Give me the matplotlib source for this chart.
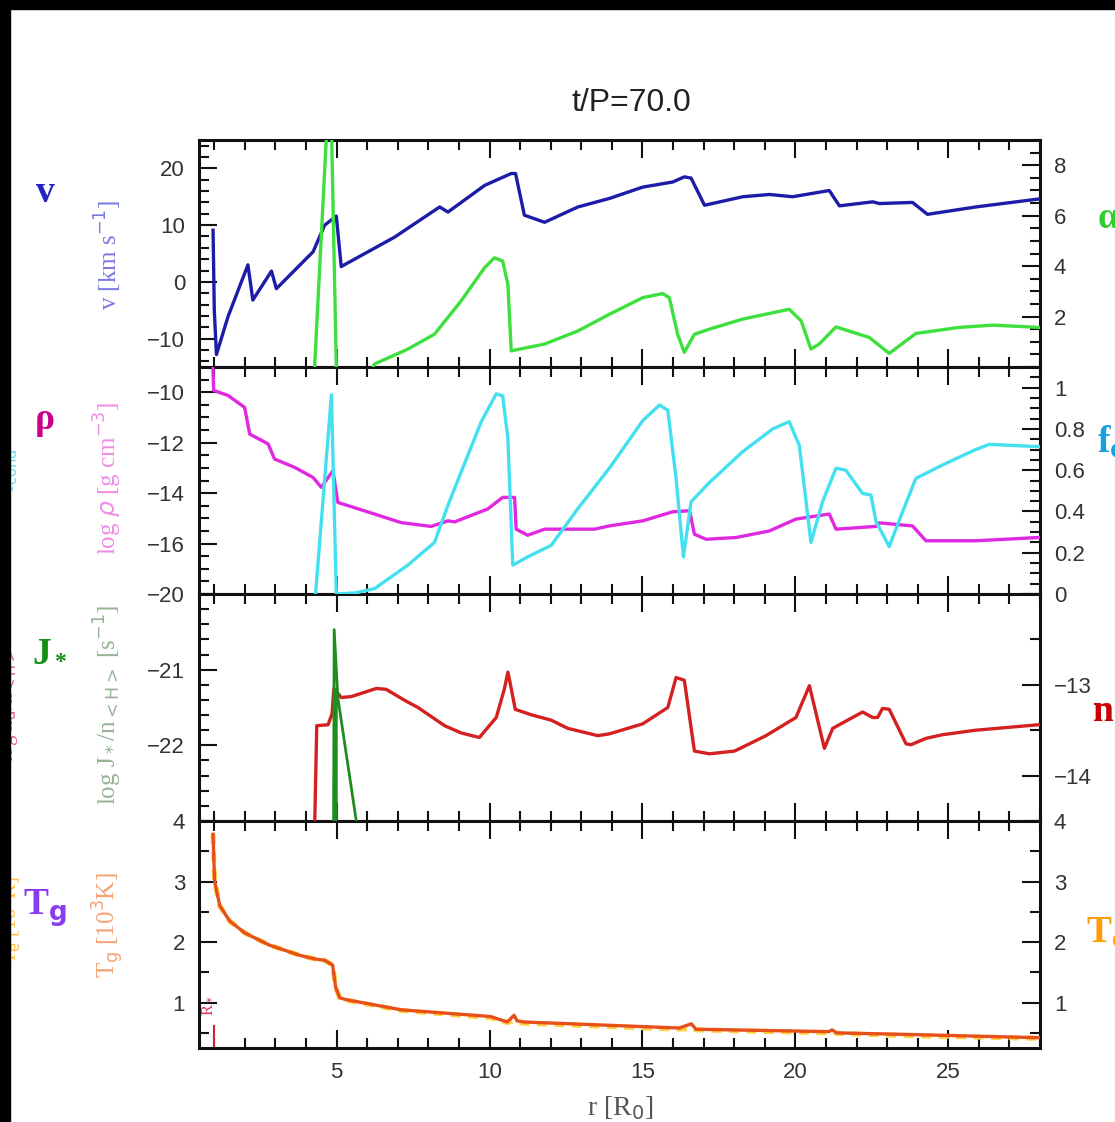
import numpy as np
import matplotlib
matplotlib.use("Agg")
import matplotlib.pyplot as plt
from matplotlib.ticker import MultipleLocator, FixedLocator, FixedFormatter
from matplotlib.patches import Rectangle

# radial profiles, r in stellar radii
r_v = [0.96, 1.00, 1.07, 1.45, 2.10, 2.26, 2.87, 3.03, 4.23, 4.61, 4.99, 5.15, 6.90,
       8.37, 8.64, 9.84, 10.71, 10.85, 11.14, 11.80, 12.89, 13.92, 15.01, 15.99,
       16.37, 16.59, 17.03, 18.28, 19.15, 19.91, 21.11, 21.44, 22.53, 22.75, 23.83,
       24.32, 25.90, 27.95]
v = [9.1, -5.0, -12.8, -6.1, 3.0, -3.2, 1.9, -1.2, 5.3, 10.0, 11.6, 2.7, 7.9,
     13.2, 12.3, 17.0, 19.1, 19.1, 11.75, 10.5, 13.2, 14.7, 16.7, 17.6,
     18.5, 18.3, 13.5, 15.0, 15.4, 15.0, 16.1, 13.4, 14.1, 13.8, 14.0,
     11.9, 13.2, 14.6]

r_alpha = [4.28, 4.66, 4.75, 4.84, 4.99, 5.05, 6.00, 6.24, 7.33, 8.20, 9.07, 9.84,
           10.16, 10.43, 10.60, 10.71, 11.80, 12.89, 13.92, 15.01, 15.66, 15.88,
           16.15, 16.37, 16.70, 17.19, 18.28, 19.80, 20.19, 20.51, 20.78, 21.33,
           22.42, 23.07, 23.94, 25.36, 26.45, 27.95]
alpha = [0.0, 9.0, 10.5, 9.0, 0.0, -0.5, -0.5, 0.12, 0.71, 1.30, 2.62, 3.94,
         4.33, 4.20, 3.28, 0.64, 0.91, 1.43, 2.09, 2.75, 2.91, 2.75,
         1.30, 0.58, 1.30, 1.50, 1.90, 2.29, 1.83, 0.71, 0.91, 1.59,
         1.17, 0.54, 1.33, 1.57, 1.66, 1.57]

r_rho = [0.95, 0.98, 1.45, 1.99, 2.16, 2.76, 2.97, 3.63, 4.23, 4.50, 4.88, 5.04,
         6.24, 7.11, 8.09, 8.64, 8.86, 9.94, 10.43, 10.82, 10.87, 11.25, 11.80,
         13.43, 13.92, 15.01, 15.99, 16.54, 16.70, 17.08, 18.06, 19.15, 20.02,
         21.11, 21.33, 22.64, 22.75, 23.83, 24.27, 25.90, 27.95]
log_rho = [-8.8, -9.93, -10.13, -10.6, -11.66, -12.05, -12.65, -12.98, -13.38,
           -13.77, -13.11, -14.37, -14.83, -15.17, -15.32, -15.10, -15.14, -14.63,
           -14.17, -14.17, -15.43, -15.67, -15.43, -15.43, -15.30, -15.10, -14.74,
           -14.70, -15.63, -15.83, -15.76, -15.50, -15.03, -14.83, -15.43, -15.32,
           -15.18, -15.30, -15.89, -15.89, -15.76]

r_fc = [4.30, 4.83, 4.99, 5.60, 6.24, 7.33, 8.20, 8.64, 9.07, 9.73, 10.22, 10.43,
        10.60, 10.76, 11.25, 12.02, 12.89, 13.92, 15.01, 15.56, 15.83, 16.10,
        16.34, 16.59, 17.19, 18.28, 19.26, 19.80, 20.13, 20.51, 20.89, 21.33,
        21.65, 22.20, 22.47, 22.64, 23.07, 23.51, 23.94, 24.81, 25.90, 26.34, 27.95]
f_cond = [-0.02, 0.965, 0.0, 0.005, 0.026, 0.14, 0.25, 0.43, 0.59, 0.835, 0.97,
          0.96, 0.754, 0.14, 0.18, 0.236, 0.414, 0.61, 0.84, 0.916, 0.89, 0.56,
          0.18, 0.447, 0.54, 0.69, 0.80, 0.835, 0.72, 0.25, 0.447, 0.61,
          0.60, 0.487, 0.48, 0.35, 0.23, 0.40, 0.56, 0.625, 0.70, 0.725, 0.714]

r_j = [4.90, 4.92, 5.04, 5.68, np.nan, 4.99, 4.99]
log_j = [-23.2, -20.47, -21.37, -23.1, np.nan, -21.3, -23.2]

r_nc = [4.28, 4.35, 4.72, 4.85, 4.91, 5.15, 5.48, 6.30, 6.62, 7.22, 7.66, 8.53,
        9.07, 9.67, 10.22, 10.49, 10.60, 10.71, 10.84, 11.36, 12.02, 12.56, 13.54,
        13.92, 15.01, 15.83, 16.10, 16.37, 16.70, 17.19, 18.01, 18.50, 19.04,
        20.02, 20.46, 20.95, 21.22, 21.87, 22.20, 22.53, 22.69, 22.85, 23.07,
        23.62, 23.78, 24.27, 24.81, 25.90, 27.95]
log_nc = [-14.6, -13.45, -13.44, -13.32, -13.04, -13.14, -13.13, -13.04, -13.05,
          -13.17, -13.25, -13.45, -13.53, -13.58, -13.36, -13.04, -12.86, -13.04,
          -13.27, -13.33, -13.39, -13.48, -13.56, -13.54, -13.43, -13.25, -12.92,
          -12.95, -13.73, -13.76, -13.73, -13.65, -13.56, -13.36, -13.01, -13.70,
          -13.48, -13.36, -13.30, -13.36, -13.36, -13.26, -13.27, -13.65, -13.66,
          -13.59, -13.55, -13.50, -13.44]

r_t = [0.96, 1.01, 1.18, 1.50, 2.00, 2.80, 3.80, 4.30, 4.60, 4.87, 4.97, 5.10,
       5.30, 7.12, 10.03, 10.58, 10.80, 10.90, 11.12, 16.20, 16.60, 16.75, 21.10,
       21.20, 21.35, 24.00, 27.95]
t_gas = [3.78, 3.0, 2.6, 2.35, 2.15, 1.95, 1.78, 1.72, 1.70, 1.62, 1.25, 1.08,
         1.05, 0.88, 0.77, 0.68, 0.79, 0.70, 0.68, 0.58, 0.65, 0.56, 0.52,
         0.55, 0.50, 0.47, 0.42]
t_eff = [3.78, 3.0, 2.6, 2.35, 2.15, 1.95, 1.78, 1.72, 1.70, 1.62, 1.25, 1.08,
         1.04, 0.87, 0.75, 0.67, 0.70, 0.68, 0.66, 0.56, 0.58, 0.55, 0.50,
         0.51, 0.49, 0.45, 0.41]

W, H = 1115, 1122
fig = plt.figure(figsize=(W / 100, H / 100), dpi=100)
fig.patch.set_facecolor("white")

TICKFONT = dict(family="Liberation Sans", size=16, color="#333333")
MINUS = "\u2212"


def lab(vals):
    out = []
    for t in vals:
        if t is None:
            out.append("")
        else:
            out.append(f"{t:g}".replace("-", MINUS))
    return out


def yaxis(ax, ticks, shown, minor, lim):
    ax.set_ylim(*lim)
    ax.yaxis.set_major_locator(FixedLocator(ticks))
    ax.yaxis.set_major_formatter(FixedFormatter(lab([t if t in shown else None for t in ticks])))
    ax.yaxis.set_minor_locator(MultipleLocator(minor))
    for t in ax.get_yticklabels():
        t.set_fontfamily(TICKFONT["family"])
        t.set_fontsize(TICKFONT["size"])
        t.set_color(TICKFONT["color"])


def frame(ax, bottom_labels=False):
    ax.set_xlim(0.5, 28)
    ax.xaxis.set_major_locator(MultipleLocator(5))
    ax.xaxis.set_minor_locator(MultipleLocator(1))
    ax.tick_params(which="both", direction="in", top=True, bottom=True,
                   left=True, right=False, width=1.5, colors="#111111",
                   labelbottom=bottom_labels, pad=10)
    ax.tick_params(which="major", length=13)
    ax.tick_params(which="minor", length=7)
    for s in ax.spines.values():
        s.set_linewidth(2.2)
        s.set_color("#111111")


def twin(ax):
    tw = ax.twinx()
    tw.tick_params(which="both", direction="in", left=False, right=True,
                   width=1.5, colors="#111111", pad=10)
    tw.tick_params(which="major", length=13)
    tw.tick_params(which="minor", length=7)
    tw.tick_params(axis="x", which="both", top=False, bottom=False)
    for s in tw.spines.values():
        s.set_visible(False)
    return tw


left, width = 199 / W, (1040 - 199) / W
ph = 227 / H
bottoms = [1 - (140 + 227 * (i + 1)) / H for i in range(4)]
axes = [fig.add_axes([left, b, width, ph]) for b in bottoms]

LW = 2.4

# velocity and alpha
ax = axes[0]
frame(ax)
ax.plot(r_v, v, color="#1c1ca8", lw=LW, zorder=3)
yaxis(ax, [-10, 0, 10, 20], [-10, 0, 10, 20], 2, (-15, 25))
tw = twin(ax)
tw.plot(r_alpha, alpha, color="#3ee03e", lw=LW)
yaxis(tw, [0, 2, 4, 6, 8], [2, 4, 6, 8], 0.5, (0, 9))

# density and condensation degree
ax = axes[1]
frame(ax)
ax.plot(r_rho, log_rho, color="#e028e0", lw=LW, zorder=3)
yaxis(ax, [-18, -16, -14, -12, -10], [-16, -14, -12, -10], 0.5, (-18, -9))
tw = twin(ax)
tw.plot(r_fc, f_cond, color="#45e0f0", lw=LW)
yaxis(tw, [0, 0.2, 0.4, 0.6, 0.8, 1.0], [0, 0.2, 0.4, 0.6, 0.8, 1.0], 0.05, (0, 1.1))

# nucleation rate and grain density
ax = axes[2]
frame(ax)
yaxis(ax, [-23, -22, -21, -20], [-22, -21, -20], 0.2, (-23, -20))
tw = twin(ax)
tw.plot(r_nc, log_nc, color="#d42020", lw=LW)
yaxis(tw, [-14, -13, -12], [-14, -13], 0.5, (-14.5, -12))
tw2 = twin(ax)
tw2.set_ylim(-23, -20)
tw2.set_yticks([])
tw2.tick_params(which="both", right=False, labelright=False)
tw2.plot(r_j, log_j, color="#1e8c1e", lw=2.0)

# temperatures
ax = axes[3]
frame(ax, bottom_labels=True)
ax.plot(r_t, t_eff, color="#ffd040", lw=3.6, ls=(0, (2, 1.5)), zorder=2)
ax.plot(r_t, t_gas, color="#e8501a", lw=LW, zorder=3)
ax.plot([1, 1], [0.25, 0.62], color="#d02040", lw=1.5)
ax.text(0.72, 0.95, r"R$_*$", rotation=90, color="#d04060", fontsize=12,
        family="Liberation Serif", ha="center", va="center")
yaxis(ax, [1, 2, 3, 4], [1, 2, 3, 4], 0.5, (0.25, 4))
for t in ax.get_xticklabels():
    t.set_fontfamily(TICKFONT["family"])
    t.set_fontsize(TICKFONT["size"])
    t.set_color(TICKFONT["color"])
tw = twin(ax)
yaxis(tw, [1, 2, 3, 4], [1, 2, 3, 4], 0.5, (0.25, 4))


def ftext(x, y, s, **kw):
    fig.text(x / W, 1 - y / H, s, **kw)


ftext(631, 103, "t/P=70.0", ha="center", va="center", fontsize=23,
      family="Liberation Sans", color="#222222")
ftext(620, 1108, r"r [R$_\mathrm{0}$]", ha="center", va="center", fontsize=20,
      family="Liberation Serif", color="#555555")

# rotated axis titles
ylab = dict(rotation=90, ha="center", va="center", family="Liberation Serif", fontsize=18)
ftext(108, 255, r"v [km s$^{-1}$]", color="#7a7ae6", **ylab)
ftext(108, 478, r"log $\rho$ [g cm$^{-3}$]", color="#f08ce6", **ylab)
ftext(108, 705, r"log J$_*$/n$_\mathrm{<H>}$ [s$^{-1}$]", color="#94b494", **ylab)
ftext(108, 925, r"T$_\mathrm{g}$ [10$^\mathrm{3}$K]", color="#f4a478", **ylab)

# cut-off labels of the neighbouring column, mostly hidden by the frame
side = dict(rotation=90, ha="center", va="center", family="Liberation Serif", fontsize=15)
ftext(9, 470, "f$_\\mathrm{cond}$", color="#60e0f0", **side)
ftext(9, 705, r"log n$_\mathrm{d}$/n$_\mathrm{<H>}$", color="#e06080", **side)
ftext(9, 920, r"T$_\mathrm{e}$ [10$^\mathrm{3}$K]", color="#ffc040", **side)

# quantity symbols beside each panel
big = dict(ha="center", va="center", family="Liberation Serif", fontsize=27,
           fontweight="bold")
ftext(45, 192, "v", color="#2424c0", **big)
ftext(45, 420, "\u03c1", color="#c8008c", **big)
ftext(42, 655, "J", color="#139013", **big)
ftext(60, 662, "*", color="#139013", ha="center", va="center",
      family="Liberation Serif", fontsize=17, fontweight="bold")
ftext(45, 908, r"T$_\mathbf{g}$", color="#8a3cf0", **big)
ftext(1098, 218, "\u03b1", color="#30cc30", ha="left", va="center",
      family="Liberation Serif", fontsize=27, fontweight="bold")
ftext(1097, 442, r"f$_\mathbf{c}$", color="#18a0e0", ha="left", va="center",
      family="Liberation Serif", fontsize=27, fontweight="bold")
ftext(1092, 712, r"n$_\mathbf{c}$", color="#c80000", ha="left", va="center",
      family="Liberation Serif", fontsize=27, fontweight="bold")
ftext(1086, 933, r"T$_\mathbf{e}$", color="#ff9a00", ha="left", va="center",
      family="Liberation Serif", fontsize=27, fontweight="bold")

# dark frame along the top and left edges
fig.patches.append(Rectangle((0, 1 - 9 / H), 1, 9 / H, transform=fig.transFigure,
                             color="black", zorder=10))
fig.patches.append(Rectangle((0, 0), 10 / W, 1, transform=fig.transFigure,
                             color="black", zorder=10))

fig.savefig("out.png", dpi=100)
